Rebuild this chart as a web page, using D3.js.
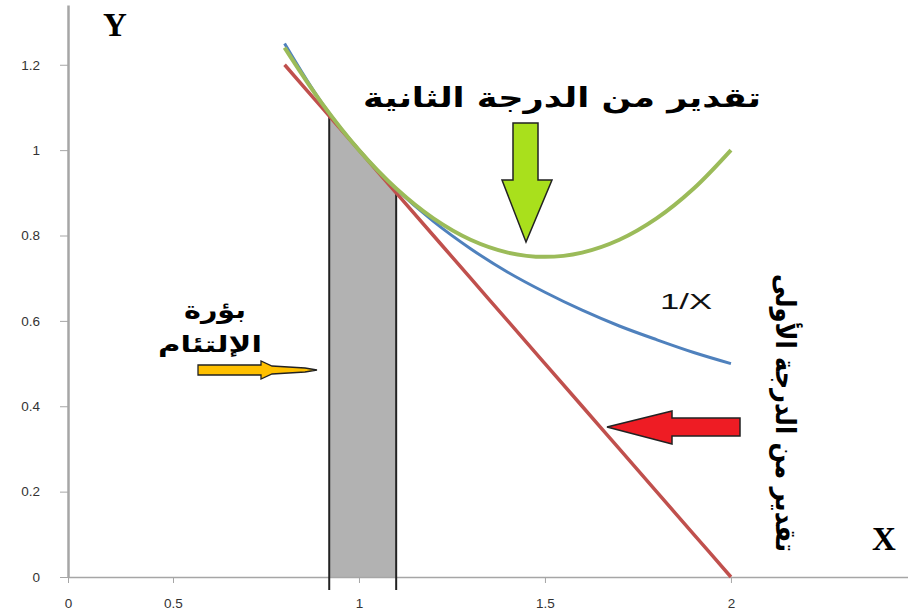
<!DOCTYPE html>
<html><head><meta charset="utf-8">
<script src="https://cdn.jsdelivr.net/npm/d3@7"></script>
<style>body{margin:0;background:#fff}svg{display:block}</style>
</head><body>
<svg id="c" width="908" height="615"></svg>
<script>
const xValues   = [0.8, 0.9, 1.0, 1.1, 1.2, 1.3, 1.4, 1.5, 1.6, 1.7, 1.8, 1.9, 2.0];
const inverse   = [1.25, 1.111, 1.0, 0.909, 0.833, 0.769, 0.714, 0.667, 0.625, 0.588, 0.556, 0.526, 0.5];
const quadratic = [1.24, 1.11, 1.0, 0.91, 0.84, 0.79, 0.76, 0.75, 0.76, 0.79, 0.84, 0.91, 1.0];
const linear    = [1.2, 1.1, 1.0, 0.9, 0.8, 0.7, 0.6, 0.5, 0.4, 0.3, 0.2, 0.1, 0.0];
const bandX     = [0.92, 1.1];
const bandTop   = [1.08, 0.9];
const xTicks    = [0, 0.5, 1, 1.5, 2];
const yTicks    = [0, 0.2, 0.4, 0.6, 0.8, 1, 1.2];

const svg = d3.select("#c");
const x = d3.scaleLinear().domain([0, 0.5, 2.476]).range([68, 173, 908]);
const y = d3.scaleLinear().domain([0, 1.34]).range([577, 5]);

// shaded band
const band = bandX.map((v,i)=>({x:v,y:bandTop[i]}));
svg.append("path").datum(band)
  .attr("fill","#b2b2b2")
  .attr("d", d3.area().x(d=>x(d.x)).y0(y(0)).y1(d=>y(d.y)));

// axes
const yAxis = svg.append("g").attr("transform",`translate(${x(0)},0)`)
  .call(d3.axisLeft(y).tickValues(yTicks).tickFormat(d3.format("")).tickSize(8).tickPadding(20).tickSizeOuter(0));
const xAxis = svg.append("g").attr("transform",`translate(0,${y(0)})`)
  .call(d3.axisBottom(x).tickValues(xTicks).tickFormat(d3.format("")).tickSize(6).tickPadding(15).tickSizeOuter(0));
[yAxis,xAxis].forEach(g=>{
  g.selectAll("text").attr("font-family","Liberation Sans, Arial, sans-serif").attr("font-size",13.5).attr("fill","#333");
  g.selectAll("line").attr("stroke","#a6a6a6");
});
yAxis.select(".domain").attr("stroke","#a6a6a6").attr("stroke-width",2.5);
xAxis.select(".domain").attr("stroke","#a6a6a6").attr("stroke-width",1.5);

// band boundary lines
svg.selectAll(".bl").data(band).enter().append("line")
  .attr("x1",d=>x(d.x)).attr("x2",d=>x(d.x))
  .attr("y1",d=>y(d.y)).attr("y2",y(0)+13)
  .attr("stroke","#222").attr("stroke-width",2);

const line = (arr)=>d3.line().curve(d3.curveCatmullRom).x((d,i)=>x(xValues[i])).y(d=>y(d))(arr);
svg.append("path").attr("d",line(linear)).attr("fill","none").attr("stroke","#c0504d").attr("stroke-width",3.5);
svg.append("path").attr("d",line(inverse)).attr("fill","none").attr("stroke","#4f81bd").attr("stroke-width",3);
svg.append("path").attr("d",line(quadratic)).attr("fill","none").attr("stroke","#9bbb59").attr("stroke-width",4);

// arrows
svg.append("polygon").attr("points","513,123 538,123 538,180 552,180 526,242 502,180 513,180")
  .attr("fill","#a9e01c").attr("stroke","#222").attr("stroke-width",1.5);
svg.append("polygon").attr("points","740,418 672,418 672,411 607,427 672,444 672,436 740,436")
  .attr("fill","#ee1c24").attr("stroke","#222").attr("stroke-width",1.5);
svg.append("polygon").attr("points","198,365 261,365 261,361 272,366 305,368 317,370 305,372 272,374 261,379 261,375 198,375")
  .attr("fill","#ffc000").attr("stroke","#222").attr("stroke-width",1.3);

// texts
const ar = "DejaVu Sans, Arial, sans-serif";
svg.append("text").attr("x",562).attr("y",107).attr("text-anchor","middle")
  .attr("font-family",ar).attr("font-weight","bold").attr("font-size",27).attr("direction","rtl")
  .attr("textLength",398).attr("lengthAdjust","spacingAndGlyphs")
  .text("تقدير من الدرجة الثانية");
svg.append("text").attr("x",215).attr("y",318).attr("text-anchor","middle")
  .attr("font-family",ar).attr("font-weight","bold").attr("font-size",24).attr("direction","rtl")
  .attr("textLength",62).attr("lengthAdjust","spacingAndGlyphs")
  .text("بؤرة");
svg.append("text").attr("x",210).attr("y",352).attr("text-anchor","middle")
  .attr("font-family",ar).attr("font-weight","bold").attr("font-size",22).attr("direction","rtl")
  .attr("textLength",104).attr("lengthAdjust","spacingAndGlyphs")
  .text("الإلتئام");
svg.append("text").attr("transform","translate(776,413) rotate(90)").attr("text-anchor","middle")
  .attr("font-family",ar).attr("font-weight","bold").attr("font-size",28).attr("direction","rtl")
  .attr("textLength",278).attr("lengthAdjust","spacingAndGlyphs")
  .text("تقدير من الدرجة الأولى");
svg.append("text").attr("x",660).attr("y",309)
  .attr("font-family","Liberation Sans, Arial, sans-serif").attr("font-size",22).attr("fill","#111")
  .attr("textLength",52).attr("lengthAdjust","spacingAndGlyphs")
  .text("1/X");
svg.append("text").attr("x",103).attr("y",36)
  .attr("font-family","Liberation Serif, Times New Roman, serif").attr("font-weight","bold").attr("font-size",33)
  .text("Y");
svg.append("text").attr("x",872).attr("y",550)
  .attr("font-family","Liberation Serif, Times New Roman, serif").attr("font-weight","bold").attr("font-size",33)
  .text("X");
</script>
</body></html>
